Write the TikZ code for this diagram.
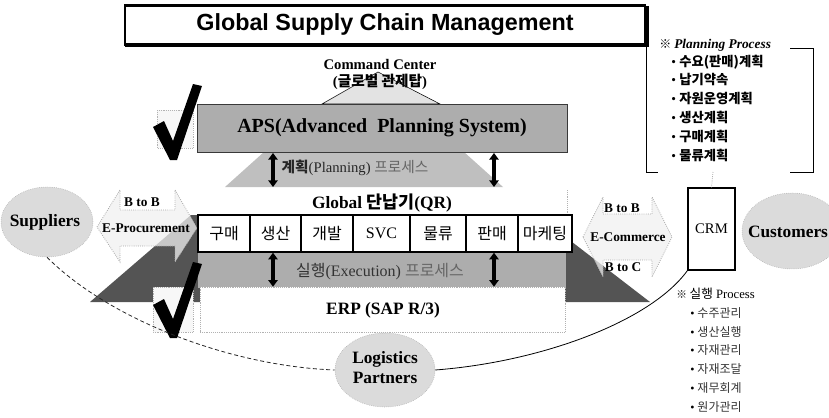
\documentclass[tikz,border=0pt]{standalone}
\usepackage{fontspec}
\setmainfont{Liberation Serif}
\newfontfamily\titlefont{Liberation Sans}
\newfontfamily\krf{Noto Sans CJK KR}
\usetikzlibrary{arrows.meta,shapes.geometric}
\newcommand{\K}[1]{{\krf #1}}
\newcommand{\fs}[1]{\fontsize{#1}{#1}\selectfont}
\definecolor{darkwing}{gray}{0.33}
\definecolor{midband}{gray}{0.68}
\definecolor{lightband}{gray}{0.75}
\definecolor{apsfill}{gray}{0.68}
\definecolor{stip}{gray}{0.86}
\begin{document}
\begin{tikzpicture}[x=0.75pt,y=-0.75pt,
  lbl/.style={inner sep=0pt, align=center},
  fbox/.style={draw=black, line width=1.1pt, fill=white, minimum height=27.75pt, inner sep=0pt, font=\fs{12}},
  oval/.style={ellipse, draw=gray!70, densely dotted, fill=stip, inner sep=0pt},
  fat/.style={fill=gray!12, fill opacity=0.75, draw=gray!70, densely dotted, line width=0.6pt},
  dbl/.style={line width=2.4pt, {Triangle[length=5pt,width=7pt]}-{Triangle[length=5pt,width=7pt]}},
  chk/.style={fill=black},
  cbox/.style={draw=gray!60, densely dotted, fill=gray!6},
  bracket/.style={line width=0.7pt},
  curve/.style={line width=0.6pt}
]
\useasboundingbox (0,0) rectangle (829,418);

% ---- background shapes ----
\filldraw[fill=gray!22, draw=black, line width=0.4pt] (378,72) -- (440,104) -- (322,104) -- cycle;
\fill[darkwing] (191,215) -- (537,215) -- (650,302) -- (90,302) -- cycle;
\fill[lightband] (264,152) -- (464,152) -- (503,187) -- (225,187) -- cycle;
\fill[midband] (198,252) rectangle (566,288);

\filldraw[cbox] (157,110) rectangle (193,148);
\filldraw[cbox] (153,287) rectangle (193,332);

\draw[gray!60, densely dotted] (567,190) -- (567,215);

\filldraw[fat] (97,227) -- (120,190) -- (120,210) -- (175,210) -- (175,190) -- (197,228)
   -- (175,262) -- (175,246) -- (120,246) -- (120,262) -- cycle;
\filldraw[fat] (583,237) -- (603,197) -- (603,214) -- (652,214) -- (652,197) -- (672,237)
   -- (652,277) -- (652,260) -- (603,260) -- (603,277) -- cycle;

% ---- title ----
\fill[black] (125,6) rectangle (649,47);
\node[draw=black, line width=2.2pt, fill=white, minimum width=390pt, minimum height=29pt, inner sep=0pt]
  (title) at (385,25) {\titlefont\bfseries\fs{17.5}Global Supply Chain Management};

% ---- command center ----
\node[lbl] (cc) at (380,64) {\fs{11}\bfseries Command Center};
\node[lbl] (gk) at (380,82) {\fs{11}\bfseries (\K{글로벌 관제탑})};

% ---- APS ----
\node[draw=gray!45!black, line width=0.6pt, fill=apsfill, minimum width=277.5pt, minimum height=36pt, inner sep=0pt]
  (aps) at (382,128) {\fs{15}\bfseries APS(Advanced\ \ Planning System)};

\node[lbl] (plan) at (355,168) {\fs{11}\color{black!85}\K{\bfseries 계획}(Planning) \color{black!60}\K{프로세스}};

\node[lbl] (qr) at (382,203) {\fs{13}\bfseries Global \K{단납기}(QR)};

% ---- function boxes ----
\node[fbox, minimum width=39pt]    (b1) at (224,233.5)   {\K{구매}};
\node[fbox, minimum width=38.25pt] (b2) at (275.5,233.5) {\K{생산}};
\node[fbox, minimum width=39pt]    (b3) at (327,233.5)   {\K{개발}};
\node[fbox, minimum width=42.75pt] (b4) at (381.5,233.5) {SVC};
\node[fbox, minimum width=42pt]    (b5) at (438,233.5)   {\K{물류}};
\node[fbox, minimum width=39pt]    (b6) at (492,233.5)   {\K{판매}};
\node[fbox, minimum width=40.5pt]  (b7) at (545,233.5)   {\K{마케팅}};

\node[lbl] (exe) at (380,272) {\fs{12}\color{black!80}\K{실행}(Execution) \color{black!60}\K{프로세스}};

% ---- ERP ----
\node[draw=gray!60, densely dotted, fill=white, minimum width=273.75pt, minimum height=33.75pt, inner sep=0pt]
  (erp) at (382.5,309.5) {};
\node[lbl] (erpt) at (383,310) {\fs{13}\bfseries ERP (SAP R/3)};

% ---- double arrows ----
\coordinate (ua1) at (273,153); \coordinate (ub1) at (273,187);
\coordinate (ua2) at (494,153); \coordinate (ub2) at (494,187);
\draw[dbl] (ua1) -- (ub1);
\draw[dbl] (ua2) -- (ub2);
\draw[dbl] (b2.south -| ua1) -- (erp.north -| ua1);
\draw[dbl] (b6.south -| ua2) -- (erp.north -| ua2);

% ---- check marks ----
\fill[chk] (153,127) -- (164,121) -- (173,141) -- (193,84) -- (202,86) -- (177,160) -- (170,160) -- cycle;
\fill[chk] (153,305) -- (164,299) -- (173,319) -- (193,262) -- (202,264) -- (177,338) -- (170,338) -- cycle;

% ---- partners ----
\node[oval, minimum width=69pt, minimum height=52.5pt] (sup) at (47,222) {};
\node[lbl] (supt) at (45,222) {\fs{13}\bfseries Suppliers};
\node[oval, minimum width=75pt, minimum height=57pt] (cus) at (792,231) {};
\node[lbl] (cust) at (788,232) {\fs{13}\bfseries Customers};
\node[oval, minimum width=75pt, minimum height=55.5pt] (log) at (385,370) {};
\node[lbl, font=\fontsize{13}{15}\selectfont\bfseries] (logt) at (385,368) {Logistics\\Partners};

\node[lbl] (bb1) at (142,202) {\fs{10}\bfseries B to B};
\node[lbl] (ep)  at (146,228) {\fs{10}\bfseries E-Procurement};
\node[lbl] (bb2) at (622,208) {\fs{10}\bfseries B to B};
\node[lbl] (ec)  at (628,237) {\fs{10}\bfseries E-Commerce};
\node[lbl] (bc)  at (623,267) {\fs{10}\bfseries B to C};

% ---- CRM ----
\node[draw=black, line width=0.8pt, fill=white, minimum width=35.25pt, minimum height=61.5pt, inner sep=0pt]
  (crm) at (711.5,229) {\fs{11}CRM};

% ---- planning process list ----
\draw[bracket] (646,45) -- (646,172) -- (658,172);
\draw[bracket] (790,48) -- (813,48) -- (813,172) -- (790,172);
\node[lbl, anchor=west] (pph) at (659,45) {\fs{9}\K{※} \fs{10}\bfseries\itshape Planning Process};
\node[lbl, anchor=west] (pp1) at (671,62)  {\fs{10}• \K{\bfseries 수요(판매)계획}};
\node[lbl, anchor=west] (pp2) at (671,80)  {\fs{10}• \K{\bfseries 납기약속}};
\node[lbl, anchor=west] (pp3) at (671,98)  {\fs{10}• \K{\bfseries 자원운영계획}};
\node[lbl, anchor=west] (pp4) at (671,117) {\fs{10}• \K{\bfseries 생산계획}};
\node[lbl, anchor=west] (pp5) at (671,136) {\fs{10}• \K{\bfseries 구매계획}};
\node[lbl, anchor=west] (pp6) at (671,155) {\fs{10}• \K{\bfseries 물류계획}};
\coordinate (pbot) at (713,172);
\draw[gray!70, densely dotted, line width=0.6pt] (pbot) -- (crm.north);

% ---- execution process list ----
\node[lbl, anchor=west] (eph) at (676,294) {\fs{8}\K{※} \fs{9.5}\K{실행} Process};
\node[lbl, anchor=west] (ep1) at (690,313) {\fs{9}• \color{black!80}\K{수주관리}};
\node[lbl, anchor=west] (ep2) at (690,332) {\fs{9}• \color{black!80}\K{생산실행}};
\node[lbl, anchor=west] (ep3) at (690,350) {\fs{9}• \color{black!80}\K{자재관리}};
\node[lbl, anchor=west] (ep4) at (690,369) {\fs{9}• \color{black!80}\K{자재조달}};
\node[lbl, anchor=west] (ep5) at (690,388) {\fs{9}• \color{black!80}\K{재무회계}};
\node[lbl, anchor=west] (ep6) at (690,407) {\fs{9}• \color{black!80}\K{원가관리}};

% ---- outer curves ----
\draw[curve, densely dashed, gray!30!black] (sup.south) .. controls (110,320) and (230,366) .. (log.west);
\draw[curve] (log.east) .. controls (540,362) and (650,322) .. (crm.south west);

\end{tikzpicture}
\end{document}
